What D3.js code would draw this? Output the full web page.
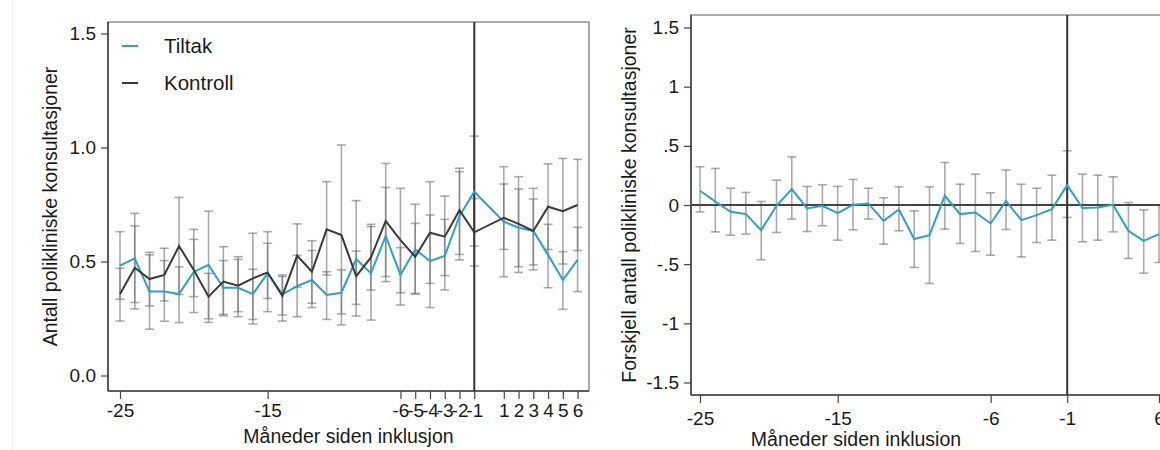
<!DOCTYPE html>
<html>
<head>
<meta charset="utf-8">
<script src="https://cdn.jsdelivr.net/npm/d3@7"></script>
<style>
  html, body { margin: 0; padding: 0; background: #fff; }
  svg { display: block; }
  text { font-family: "Liberation Sans", Arial, sans-serif; fill: #1a1a1a; }
</style>
</head>
<body>
<svg id="chart" width="1160" height="450"></svg>
<script>
// ---------------- data ----------------
const months = [-25,-24,-23,-22,-21,-20,-19,-18,-17,-16,-15,-14,-13,-12,-11,-10,-9,-8,-7,-6,-5,-4,-3,-2,-1,1,2,3,4,5,6];

const tiltak   = [0.482,0.514,0.368,0.368,0.357,0.455,0.485,0.385,0.385,0.357,0.448,0.356,0.392,0.419,0.353,0.363,0.511,0.448,0.612,0.441,0.553,0.502,0.524,0.700,0.806,0.675,0.648,0.634,0.529,0.419,0.507];
const tiltakLo = [0.334,0.320,0.203,0.238,0.232,0.276,0.249,0.268,0.258,0.246,0.280,0.265,0.258,0.298,0.246,0.270,0.261,0.243,0.412,0.309,0.357,0.298,0.375,0.507,0.568,0.433,0.477,0.463,0.385,0.290,0.368];
const tiltakHi = [0.631,0.711,0.529,0.504,0.477,0.641,0.721,0.504,0.509,0.466,0.631,0.441,0.527,0.548,0.455,0.463,0.767,0.653,0.825,0.561,0.751,0.704,0.685,0.909,1.050,0.916,0.818,0.821,0.663,0.543,0.650];

const kontroll   = [0.357,0.473,0.423,0.441,0.568,0.463,0.346,0.412,0.394,0.426,0.452,0.349,0.526,0.455,0.641,0.616,0.436,0.518,0.678,0.594,0.521,0.626,0.609,0.725,0.628,0.692,0.665,0.634,0.740,0.721,0.748];
const kontrollLo = [0.239,0.292,0.305,0.327,0.355,0.346,0.233,0.262,0.280,0.226,0.338,0.239,0.387,0.317,0.441,0.222,0.312,0.375,0.434,0.363,0.360,0.404,0.438,0.531,0.480,0.553,0.452,0.485,0.553,0.489,0.548];
const kontrollHi = [0.470,0.656,0.540,0.558,0.781,0.597,0.448,0.565,0.521,0.624,0.580,0.434,0.665,0.591,0.850,1.011,0.546,0.663,0.930,0.821,0.667,0.850,0.787,0.894,0.776,0.840,0.872,0.774,0.928,0.952,0.948];

const diff   = [0.120,0.030,-0.058,-0.077,-0.212,-0.007,0.134,-0.029,-0.007,-0.069,0.002,0.013,-0.134,-0.038,-0.288,-0.255,0.078,-0.077,-0.063,-0.156,0.035,-0.128,-0.086,-0.035,0.168,-0.026,-0.021,0.002,-0.218,-0.303,-0.246];
const diffLo = [-0.058,-0.227,-0.255,-0.246,-0.463,-0.232,-0.119,-0.224,-0.176,-0.297,-0.210,-0.119,-0.331,-0.218,-0.528,-0.663,-0.204,-0.325,-0.393,-0.424,-0.207,-0.438,-0.317,-0.297,-0.105,-0.311,-0.297,-0.227,-0.452,-0.576,-0.486];
const diffHi = [0.323,0.309,0.142,0.106,0.030,0.210,0.407,0.157,0.171,0.157,0.216,0.142,0.061,0.154,-0.049,0.154,0.359,0.176,0.261,0.103,0.295,0.176,0.142,0.252,0.458,0.261,0.252,0.238,0.021,-0.041,0.000];

const leftXTicks = [-25,-15,-6,-5,-4,-3,-2,-1,1,2,3,4,5,6];
const leftYTicks = [0, 0.5, 1.0, 1.5];
const leftYLabels = ["0.0","0.5","1.0","1.5"];
const rightXTickIdx = [0, 9, 19, 24, 30];
const rightXLabels = ["-25","-15","-6","-1","6"];
const rightYTicks = [-1.5,-1,-0.5,0,0.5,1,1.5];
const rightYLabels = ["-1.5","-1","-.5","0",".5","1","1.5"];
const seriesNames = ["Tiltak","Kontroll"];
const vlineMonth = -1;

// ---------------- styling ----------------
const BLUE = "#2fa0cb";
const DARK = "#3a3a3a";
const ERR = "rgba(110,110,110,0.58)";
const TICKFONT = "19px";
const TITLEFONT = "19.5px";

const svg = d3.select("#chart");
svg.append("line").attr("x1",12.5).attr("x2",12.5).attr("y1",0).attr("y2",450)
   .attr("stroke","#eeeeee").attr("stroke-width",1);

function errorBars(g, xs, lo, hi, x, y) {
  const cap = 4.5;
  xs.forEach((xv, i) => {
    const px = x(xv);
    g.append("line").attr("x1",px).attr("x2",px).attr("y1",y(lo[i])).attr("y2",y(hi[i]))
      .attr("stroke",ERR).attr("stroke-width",1.6);
    [lo[i], hi[i]].forEach(v => {
      g.append("line").attr("x1",px-cap).attr("x2",px+cap).attr("y1",y(v)).attr("y2",y(v))
        .attr("stroke",ERR).attr("stroke-width",1.6);
    });
  });
}

function styleAxis(a) {
  a.selectAll(".tick line").attr("stroke","#444").attr("stroke-width",1.2);
  a.selectAll("text").style("font-size",TICKFONT).attr("fill","#1a1a1a").attr("font-family",null);
}

// ---------------- left chart ----------------
{
  const L = {left:108, right:589, top:22, bottom:391};
  const x = d3.scaleLinear().domain([-25, 6]).range([120, 577.6]);
  const y = d3.scaleLinear().domain([0, 1.5]).range([375.5, 33.5]);
  const g = svg.append("g");

  g.append("rect").attr("x",L.left).attr("y",L.top).attr("width",L.right-L.left).attr("height",L.bottom-L.top)
    .attr("fill","none").attr("stroke","#777").attr("stroke-width",1.2);

  errorBars(g, months, tiltakLo, tiltakHi, x, y);
  errorBars(g, months, kontrollLo, kontrollHi, x, y);

  g.append("line").attr("x1",x(vlineMonth)).attr("x2",x(vlineMonth)).attr("y1",L.top).attr("y2",L.bottom)
    .attr("stroke","#333").attr("stroke-width",2);

  const line = d3.line().x((d,i)=>x(months[i])).y(d=>y(d));
  g.append("path").datum(tiltak).attr("d",line).attr("fill","none").attr("stroke",BLUE).attr("stroke-width",2);
  g.append("path").datum(kontroll).attr("d",line).attr("fill","none").attr("stroke",DARK).attr("stroke-width",2);

  const ya = g.append("g").attr("transform",`translate(${L.left},0)`)
    .call(d3.axisLeft(y).tickValues(leftYTicks).tickSize(7).tickPadding(5)
      .tickFormat((d,i)=>leftYLabels[i]));
  ya.select(".domain").attr("d",`M0,${L.top}V${L.bottom}`).attr("stroke","#444").attr("stroke-width",1.6);
  styleAxis(ya);

  const xa = g.append("g").attr("transform",`translate(0,${L.bottom})`)
    .call(d3.axisBottom(x).tickValues(leftXTicks).tickSize(8).tickPadding(5).tickFormat(d => String(d)));
  xa.select(".domain").attr("d",`M${L.left},0H${L.right}`).attr("stroke","#444").attr("stroke-width",1.6);
  styleAxis(xa);

  g.append("text").attr("x",(L.left+L.right)/2).attr("y",443).attr("text-anchor","middle")
    .style("font-size",TITLEFONT).text("Måneder siden inklusjon");
  g.append("text").attr("transform",`translate(57,${(L.top+L.bottom)/2}) rotate(-90)`).attr("text-anchor","middle")
    .style("font-size",TITLEFONT).text("Antall polikliniske konsultasjoner");

  const lg = g.append("g");
  [[BLUE,46,53],[DARK,83,90]].forEach((c,i)=>{
    lg.append("line").attr("x1",122).attr("x2",138).attr("y1",c[1]).attr("y2",c[1]).attr("stroke",c[0]).attr("stroke-width",2);
    lg.append("text").attr("x",164).attr("y",c[2]).style("font-size","20.5px").text(seriesNames[i]);
  });
}

// ---------------- right chart ----------------
{
  const R = {left:691, right:1190, top:15, bottom:395};
  const idx = months.map((m,i)=>i);
  const x = d3.scaleLinear().domain([0, 30]).range([700, 1159]);
  const y = d3.scaleLinear().domain([-1.5, 1.5]).range([382.5, 27.5]);
  const g = svg.append("g");

  g.append("rect").attr("x",R.left).attr("y",R.top).attr("width",R.right-R.left).attr("height",R.bottom-R.top)
    .attr("fill","none").attr("stroke","#777").attr("stroke-width",1.2);

  errorBars(g, idx, diffLo, diffHi, x, y);

  g.append("line").attr("x1",R.left).attr("x2",R.right).attr("y1",y(0)).attr("y2",y(0))
    .attr("stroke","#444").attr("stroke-width",2);
  g.append("line").attr("x1",x(months.indexOf(vlineMonth))).attr("x2",x(months.indexOf(vlineMonth)))
    .attr("y1",R.top).attr("y2",R.bottom).attr("stroke","#333").attr("stroke-width",2);

  const line = d3.line().x((d,i)=>x(idx[i])).y(d=>y(d));
  g.append("path").datum(diff).attr("d",line).attr("fill","none").attr("stroke",BLUE).attr("stroke-width",2);

  const ya = g.append("g").attr("transform",`translate(${R.left},0)`)
    .call(d3.axisLeft(y).tickValues(rightYTicks).tickSize(7).tickPadding(5)
      .tickFormat((d,i)=>rightYLabels[i]));
  ya.select(".domain").attr("d",`M0,${R.top}V${R.bottom}`).attr("stroke","#444").attr("stroke-width",1.6);
  styleAxis(ya);

  const xa = g.append("g").attr("transform",`translate(0,${R.bottom})`)
    .call(d3.axisBottom(x).tickValues(rightXTickIdx).tickSize(8).tickPadding(9)
      .tickFormat((d,i)=>rightXLabels[i]));
  xa.select(".domain").attr("d",`M${R.left},0H${R.right}`).attr("stroke","#444").attr("stroke-width",1.6);
  styleAxis(xa);

  g.append("text").attr("x",856).attr("y",446).attr("text-anchor","middle")
    .style("font-size",TITLEFONT).text("Måneder siden inklusion");
  g.append("text").attr("transform",`translate(636,${(R.top+R.bottom)/2}) rotate(-90)`).attr("text-anchor","middle")
    .style("font-size",TITLEFONT).text("Forskjell antall polikliniske konsultasjoner");
}
</script>
</body>
</html>
